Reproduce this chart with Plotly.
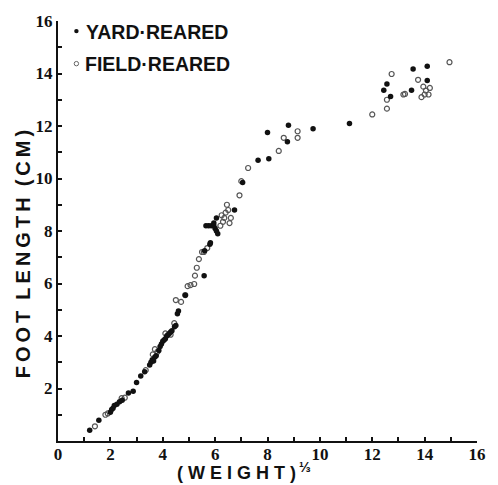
import plotly.graph_objects as go

# Yard-reared (filled dots)
yard_x = [1.21, 1.56, 2.0, 2.05, 2.1, 2.15, 2.25, 2.35, 2.45, 2.69, 2.87, 3.0, 3.16, 3.31,
          3.5, 3.55, 3.6, 3.65, 3.7, 3.75, 3.85, 3.9, 3.95, 4.0, 4.05, 4.1, 4.15, 4.2, 4.25,
          4.3, 4.35, 4.45, 4.5, 4.56, 4.6, 4.86, 5.58, 5.6, 5.8, 5.82, 5.65, 5.75, 5.85, 5.95,
          6.0, 6.05, 6.1, 5.95, 6.05, 6.74, 7.05, 7.64, 8.05, 8.0, 8.76, 8.8, 9.74, 11.13,
          12.44, 12.56, 12.7, 13.5, 13.56, 14.1, 14.1]
yard_y = [0.41, 0.79, 1.1, 1.2, 1.25, 1.35, 1.4, 1.5, 1.55, 1.83, 1.9, 2.23, 2.48, 2.64,
          2.9, 3.0, 3.1, 3.05, 3.2, 3.25, 3.45, 3.6, 3.7, 3.8, 3.85, 3.9, 4.0, 4.05, 4.1,
          4.15, 4.2, 4.35, 4.4, 4.85, 4.95, 5.55, 6.3, 7.25, 7.5, 7.55, 8.2, 8.2, 8.2, 8.2,
          8.1, 8.0, 7.9, 8.3, 8.5, 8.8, 9.85, 10.7, 10.75, 11.75, 11.4, 12.03, 11.9, 12.1,
          13.36, 13.6, 13.12, 13.36, 14.17, 14.28, 13.73]

# Field-reared (open marks)
field_x = [1.41, 1.81, 1.9, 2.43, 2.55, 3.35, 3.62, 3.7, 3.8, 4.1, 4.3, 4.44, 4.5, 4.7,
           4.86, 4.95, 5.06, 5.2, 5.23, 5.3, 5.38, 5.5, 5.57, 5.7, 6.2, 6.3, 6.35, 6.25,
           6.4, 6.5, 6.45, 6.6, 6.55, 6.93, 7.0, 7.26, 8.43, 8.62, 9.15, 9.15, 12.0, 12.56,
           12.56, 12.74, 13.19, 13.25, 13.75, 13.95, 14.05, 14.15, 14.2, 13.88, 14.0, 14.95]
field_y = [0.56, 1.0, 1.05, 1.63, 1.65, 2.7, 3.3, 3.5, 3.4, 4.1, 4.05, 4.49, 5.37, 5.3,
           5.56, 5.9, 5.94, 5.98, 6.3, 6.6, 6.93, 7.2, 7.2, 7.35, 8.2, 8.35, 8.5, 8.6,
           8.7, 8.8, 9.0, 8.5, 8.3, 9.36, 9.9, 10.4, 11.05, 11.55, 11.8, 11.55, 12.44, 12.66,
           13.0, 13.98, 13.2, 13.22, 13.76, 13.5, 13.35, 13.2, 13.45, 13.1, 13.2, 14.43]

x_ticks = list(range(0, 17))
x_ticktext = ["<b>%d</b>" % v if v % 2 == 0 else "" for v in x_ticks]
y_ticks = list(range(0, 17))
y_ticktext = ["<b>%d</b>" % v if (v % 2 == 0 and v > 0) else "" for v in y_ticks]

legend_labels = ["YARD·REARED", "FIELD·REARED"]

fig = go.Figure()
fig.add_trace(go.Scatter(x=field_x, y=field_y, mode="markers", name=legend_labels[1],
                         marker=dict(symbol="circle-open", size=5, color="#555",
                                     line=dict(width=1.2, color="#555"))))
fig.add_trace(go.Scatter(x=yard_x, y=yard_y, mode="markers", name=legend_labels[0],
                         marker=dict(symbol="circle", size=5.5, color="#111")))

tickfont = dict(family="Liberation Serif", size=17, color="#111")
fig.update_xaxes(range=[0, 16], tickvals=x_ticks, ticktext=x_ticktext, ticks="inside",
                 ticklen=4, tickwidth=1.5, tickcolor="#111", showline=True, linewidth=2,
                 linecolor="#111", showgrid=False, zeroline=False, tickfont=tickfont,
                 ticklabelstandoff=-3)
fig.update_yaxes(range=[0, 16], tickvals=y_ticks, ticktext=y_ticktext, ticks="inside",
                 ticklen=4, tickwidth=1.5, tickcolor="#111", showline=True, linewidth=2,
                 linecolor="#111", showgrid=False, zeroline=False, tickfont=tickfont)

bold = "Liberation Sans"
ann = [
    dict(text="<b>" + legend_labels[0] + "</b>", x=84, y=26),
    dict(text="<b>" + legend_labels[1] + "</b>", x=83, y=59),
]
for a in ann:
    fig.add_annotation(text=a["text"], xref="paper", yref="paper",
                       x=(a["x"] - 58) / 427, y=(441 - a["y"]) / 426,
                       xanchor="left", yanchor="middle", showarrow=False,
                       font=dict(family=bold, size=19.5, color="#111"))

# legend markers
fig.add_shape(type="circle", xref="paper", yref="paper",
              x0=(74.5 - 58) / 427, x1=(79 - 58) / 427,
              y0=(441 - 27.5) / 426, y1=(441 - 23) / 426,
              fillcolor="#111", line=dict(width=0))
fig.add_shape(type="circle", xref="paper", yref="paper",
              x0=(74.5 - 58) / 427, x1=(79 - 58) / 427,
              y0=(441 - 60.5) / 426, y1=(441 - 56) / 426,
              fillcolor="rgba(0,0,0,0)", line=dict(width=1, color="#666"))

ts = "\u2009"
ytitle = ts.join("FOOT") + "  " + ts.join("LENGTH") + "  " + ts.join("(CM)")
fig.add_annotation(text="<b>" + ytitle + "</b>", xref="paper", yref="paper",
                   x=(22 - 58) / 427, y=(441 - 252) / 426, textangle=-90,
                   xanchor="center", yanchor="middle", showarrow=False,
                   font=dict(family=bold, size=20, color="#111"))
fig.add_annotation(text="<b>( W E I G H T )</b>", xref="paper", yref="paper",
                   x=(240 - 58) / 427, y=(441 - 473) / 426,
                   xanchor="center", yanchor="middle", showarrow=False,
                   font=dict(family=bold, size=18, color="#111"))
fig.add_annotation(text="<b>⅓</b>", xref="paper", yref="paper",
                   x=(310 - 58) / 427, y=(441 - 467) / 426,
                   xanchor="center", yanchor="middle", showarrow=False,
                   font=dict(family=bold, size=14, color="#111"))

fig.update_layout(width=498, height=485, margin=dict(l=58, r=13, t=15, b=44),
                  paper_bgcolor="white", plot_bgcolor="white", showlegend=False)

fig.write_html("out.html")
